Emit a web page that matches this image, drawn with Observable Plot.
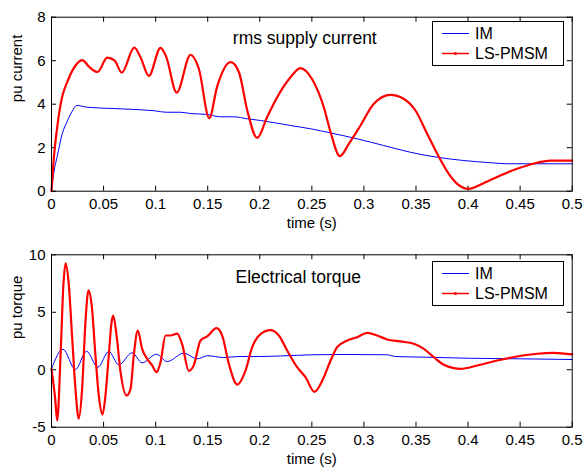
<!DOCTYPE html>
<html><head><meta charset="utf-8">
<script src="https://cdn.jsdelivr.net/npm/d3@7"></script>
<script src="https://cdn.jsdelivr.net/npm/@observablehq/plot@0.6"></script>
<style>
body{margin:0;background:#fff}
#chart{width:588px;height:470px}
#chart svg{display:block}
</style>
</head><body><div id="chart"></div>
<script>
// ---- data ----
const tCurIM = [0,0.0022,0.0055,0.0103,0.015,0.0199,0.024,0.0343,0.06,0.079,0.0983,0.111,0.124,0.1335,0.1495,0.162,0.175,0.188,0.2007,0.22,0.2295,0.2487,0.268,0.2935,0.319,0.3447,0.3704,0.396,0.4216,0.4376,0.4536,0.5];
const vCurIM = [0,0.85,1.6,2.64,3.2,3.68,3.94,3.86,3.8,3.76,3.7,3.63,3.63,3.57,3.53,3.42,3.42,3.33,3.25,3.1,3.02,2.87,2.68,2.41,2.1,1.79,1.56,1.41,1.31,1.26,1.26,1.26];

const tCurLS = [0,0.0022,0.0055,0.0103,0.015,0.0214,0.0295,0.0365,0.0442,0.0535,0.0605,0.0675,0.0795,0.0855,0.0935,0.1047,0.11,0.1202,0.1335,0.1415,0.1515,0.159,0.172,0.18,0.188,0.1975,0.207,0.2167,0.2295,0.239,0.25,0.2615,0.268,0.277,0.2855,0.2967,0.3095,0.3255,0.338,0.3495,0.3607,0.3704,0.3815,0.3896,0.4007,0.415,0.431,0.447,0.4664,0.479,0.5];
const vCurLS = [0,1.5,2.95,4.35,5.0,5.66,6.03,5.7,5.48,6.14,6.01,5.45,6.6,6.16,5.3,6.59,6.2,4.53,6.27,5.63,3.36,4.8,5.93,5.47,3.71,2.45,3.4,4.32,5.24,5.66,5.17,3.86,2.71,1.61,2.18,3.02,4.02,4.43,4.25,3.71,2.64,1.72,0.8,0.34,0.11,0.37,0.72,1.03,1.31,1.41,1.41];

const tTorIM = [0,0.011,0.023,0.0336,0.0445,0.055,0.0646,0.0775,0.087,0.1008,0.1111,0.127,0.1399,0.15,0.165,0.18,0.2,0.22,0.25,0.28,0.3223,0.33,0.36,0.4,0.45,0.5];
const vTorIM = [0.08,1.78,0.02,1.61,0.22,1.59,0.43,1.47,0.6,1.35,0.71,1.44,0.95,1.22,1.06,1.15,1.15,1.2,1.3,1.33,1.3,1.15,1.09,1.0,0.95,0.89];

const tTorLS = [0,0.0035,0.0055,0.0086,0.0115,0.0136,0.0166,0.0199,0.023,0.0262,0.0294,0.0326,0.0355,0.0386,0.0422,0.0454,0.049,0.0518,0.055,0.0577,0.0593,0.0625,0.0663,0.072,0.0759,0.079,0.0829,0.087,0.0919,0.0967,0.1008,0.1047,0.1095,0.1143,0.1207,0.1255,0.1318,0.1367,0.1431,0.1495,0.1585,0.164,0.1703,0.1783,0.1863,0.1927,0.2007,0.2103,0.2183,0.2263,0.2359,0.2439,0.2525,0.2615,0.268,0.2743,0.284,0.2935,0.3031,0.3127,0.3223,0.3351,0.3479,0.3575,0.3671,0.3767,0.3863,0.3927,0.4088,0.428,0.4472,0.4664,0.4823,0.5];
const vTorLS = [0.08,-2.5,-4.42,1.0,7.5,9.25,7.4,2.7,-1.66,-4.25,-1.66,4.14,6.9,5.6,1.24,-2.24,-3.9,-2.24,1.24,4.14,4.7,2.98,-0.21,-2.24,-1.66,1.24,3.41,1.82,0.95,0.37,-0.21,0.66,2.98,2.98,3.15,2.2,-0.1,0.4,2.55,2.9,3.62,2.95,0.52,-1.29,-0.07,1.96,3.1,3.45,2.98,1.68,0.22,-0.65,-1.92,-0.65,0.8,1.96,2.55,2.83,3.21,2.98,2.63,2.46,2.26,1.82,1.09,0.43,0.14,0.08,0.37,0.8,1.15,1.39,1.47,1.33];

const xTicks = [0,0.05,0.1,0.15,0.2,0.25,0.3,0.35,0.4,0.45,0.5];
const yTicksCur = [0,2,4,6,8];
const yTicksTor = [-5,0,5,10];
const seriesNames = ["IM","LS-PMSM"];
const seriesColors = ["#0000ff","#ff0000"];
const titles = ["rms supply current","Electrical torque"];
const yLabels = ["pu current","pu torque"];
const xLabel = "time (s)";

const FONT = "'Liberation Sans', Arial, Helvetica, sans-serif";
const W = 588, H = 235, ML = 51, MR = 16.3;

function rows(ts, vs) { return ts.map((t, i) => ({t, v: vs[i]})); }

function panel(o) {
  const [y0, y1] = o.yDomain;
  const plotH = H - o.mt - o.mb;
  const plotW = W - ML - MR;
  const xLen = 5 * (y1 - y0) / plotH;   // 5px inward ticks
  const yLen = 5 * 0.5 / plotW;
  const svg = Plot.plot({
    width: W, height: H,
    marginLeft: ML, marginRight: MR, marginTop: o.mt, marginBottom: o.mb,
    style: {fontFamily: FONT, fontSize: "15px", color: "black", background: "white", overflow: "visible"},
    x: {domain: [0, 0.5], ticks: xTicks, tickSize: 0, tickPadding: 7, tickFormat: d => String(d), label: null},
    y: {domain: o.yDomain, ticks: o.yTicks, tickSize: 0, tickPadding: 6, tickFormat: d => String(d), label: null},
    marks: [
      Plot.ruleX(xTicks, {x: d => d, y1: y0, y2: y0 + xLen, stroke: "black"}),
      Plot.ruleX(xTicks, {x: d => d, y1: y1 - xLen, y2: y1, stroke: "black"}),
      Plot.ruleY(o.yTicks, {y: d => d, x1: 0, x2: yLen, stroke: "black"}),
      Plot.ruleY(o.yTicks, {y: d => d, x1: 0.5 - yLen, x2: 0.5, stroke: "black"}),
      Plot.line(rows(o.tIM, o.vIM), {x: "t", y: "v", stroke: seriesColors[0], strokeWidth: 1, curve: "monotone-x"}),
      Plot.line(rows(o.tLS, o.vLS), {x: "t", y: "v", stroke: seriesColors[1], strokeWidth: 2.2, curve: "monotone-x"}),
      Plot.frame({stroke: "black"}),
      Plot.text([o.title], {frameAnchor: "top-left", dx: o.titleDx, dy: o.titleDy, text: d => d, textAnchor: "start", lineAnchor: "bottom", fontSize: 17.5, fill: "black"}),
      Plot.text([xLabel], {frameAnchor: "bottom", dy: 37, text: d => d, lineAnchor: "bottom", fill: "black"}),
      Plot.text([o.yLabel], {frameAnchor: "left", dx: -30, dy: -2, rotate: -90, text: d => d, lineAnchor: "bottom", fill: "black"})
    ]
  });
  // legend box (MATLAB style)
  const g = d3.select(svg).append("g").attr("font-family", FONT).attr("font-size", 16).attr("text-anchor", "start");
  const bx = 432.5, by = o.legendTop, bw = 131, bh = 44;
  g.append("rect").attr("x", bx).attr("y", by).attr("width", bw).attr("height", bh)
    .attr("fill", "white").attr("stroke", "black");
  const rowY = [by + 12, by + 32];
  seriesNames.forEach((name, i) => {
    g.append("line").attr("x1", 442).attr("x2", 469).attr("y1", rowY[i]).attr("y2", rowY[i])
      .attr("stroke", seriesColors[i]).attr("stroke-width", i ? 1.5 : 1);
    if (i) g.append("circle").attr("cx", 455.5).attr("cy", rowY[i]).attr("r", 1.6).attr("fill", seriesColors[i]);
    g.append("text").attr("x", 475).attr("y", rowY[i]).attr("dy", "0.35em").attr("fill", "black")
      .attr("text-anchor", "start").text(name);
  });
  return svg;
}

const chart = document.getElementById("chart");
chart.appendChild(panel({tIM: tCurIM, vIM: vCurIM, tLS: tCurLS, vLS: vCurLS, yDomain: [0, 8], yTicks: yTicksCur,
  title: titles[0], yLabel: yLabels[0], mt: 16.7, mb: 44.3, titleDx: 181.3, titleDy: 26.3, legendTop: 21.5}));
chart.appendChild(panel({tIM: tTorIM, vIM: vTorIM, tLS: tTorLS, vLS: vTorLS, yDomain: [-5, 10], yTicks: yTicksTor,
  title: titles[1], yLabel: yLabels[1], mt: 19.3, mb: 43.3, titleDx: 184, titleDy: 28.2, legendTop: 26.5}));
</script>
</body></html>
